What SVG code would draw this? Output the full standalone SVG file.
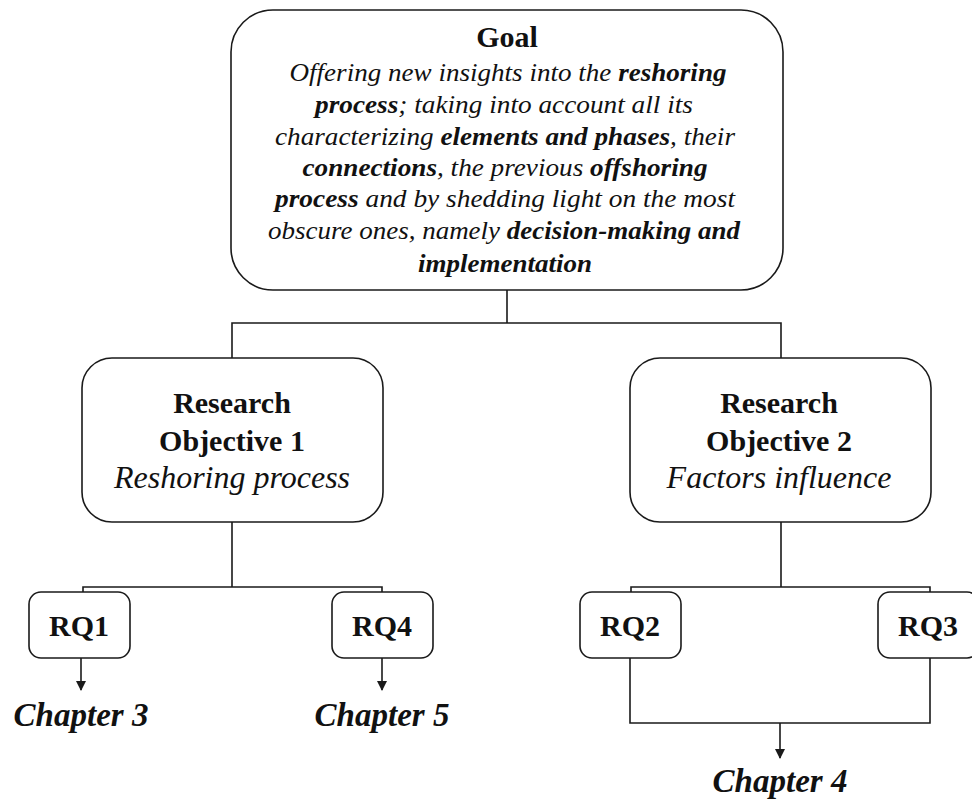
<svg xmlns="http://www.w3.org/2000/svg" width="972" height="801" viewBox="0 0 972 801">
  <style>
    .box { fill: #ffffff; stroke: #1a1a1a; stroke-width: 1.6; }
    .link { fill: none; stroke: #1a1a1a; stroke-width: 1.6; }
    .serif { font-family: 'Liberation Serif', 'DejaVu Serif', serif; fill: #111111; }
    .body { font-size: 25px; font-style: italic; text-anchor: middle; }
    .strong { font-weight: bold; }
    .head { font-size: 30px; font-weight: bold; text-anchor: middle; }
    .obj { font-size: 30px; font-weight: bold; text-anchor: middle; }
    .obj-sub { font-size: 32px; font-style: italic; text-anchor: middle; }
    .rq { font-size: 30px; font-weight: bold; text-anchor: middle; }
    .chap { font-size: 33px; font-weight: bold; font-style: italic; text-anchor: middle; }
  </style>
  <defs>
    <marker id="arrow" markerWidth="10" markerHeight="10" refX="9" refY="5" orient="auto" markerUnits="userSpaceOnUse">
      <path d="M0,0 L10,5 L0,10 Z" fill="#1a1a1a"/>
    </marker>
  </defs>
  <rect width="972" height="801" fill="#ffffff"/>

  <!-- connectors -->
  <g id="connectors">
    <path class="link" d="M507,290 V323 M232,358 V323 H781 V358"/>
    <path class="link" d="M232,522 V587 M83,592 V587 H382 V592"/>
    <path class="link" d="M781,522 V587 M631,592 V587 H930 V592"/>
    <path class="link" d="M81,658 V690" marker-end="url(#arrow)"/>
    <path class="link" d="M382,658 V690" marker-end="url(#arrow)"/>
    <path class="link" d="M630,658 V723 H930 V658"/>
    <path class="link" d="M780,723 V758" marker-end="url(#arrow)"/>
  </g>

  <!-- goal -->
  <g id="goal">
    <rect class="box" x="231" y="10" width="552" height="280" rx="42" ry="42"/>
    <text class="serif head" x="507" y="47">Goal</text>
    <text class="serif body" x="508" y="81" textLength="437" lengthAdjust="spacingAndGlyphs">Offering new insights into the <tspan class="strong">reshoring</tspan></text>
    <text class="serif body" x="504" y="113" textLength="378" lengthAdjust="spacingAndGlyphs"><tspan class="strong">process</tspan>; taking into account all its</text>
    <text class="serif body" x="505" y="145" textLength="460" lengthAdjust="spacingAndGlyphs">characterizing <tspan class="strong">elements and phases</tspan>, their</text>
    <text class="serif body" x="505" y="176" textLength="405" lengthAdjust="spacingAndGlyphs"><tspan class="strong">connections</tspan>, the previous <tspan class="strong">offshoring</tspan></text>
    <text class="serif body" x="505" y="207" textLength="460" lengthAdjust="spacingAndGlyphs"><tspan class="strong">process</tspan> and by shedding light on the most</text>
    <text class="serif body" x="504" y="239" textLength="472" lengthAdjust="spacingAndGlyphs">obscure ones, namely <tspan class="strong">decision-making and</tspan></text>
    <text class="serif body strong" x="505" y="272" textLength="174" lengthAdjust="spacingAndGlyphs">implementation</text>
  </g>

  <!-- research objective 1 -->
  <g id="objective-1">
    <rect class="box" x="82" y="358" width="301" height="164" rx="30" ry="30"/>
    <text class="serif obj" x="232" y="413">Research</text>
    <text class="serif obj" x="232" y="451">Objective 1</text>
    <text class="serif obj-sub" x="232" y="488">Reshoring process</text>
  </g>

  <!-- research objective 2 -->
  <g id="objective-2">
    <rect class="box" x="630" y="358" width="301" height="164" rx="30" ry="30"/>
    <text class="serif obj" x="779" y="413">Research</text>
    <text class="serif obj" x="779" y="451">Objective 2</text>
    <text class="serif obj-sub" x="779" y="488">Factors influence</text>
  </g>

  <!-- research questions -->
  <g id="rq1">
    <rect class="box" x="29" y="592" width="101" height="66" rx="12" ry="12"/>
    <text class="serif rq" x="79" y="636">RQ1</text>
  </g>
  <g id="rq4">
    <rect class="box" x="332" y="592" width="101" height="66" rx="12" ry="12"/>
    <text class="serif rq" x="382" y="636">RQ4</text>
  </g>
  <g id="rq2">
    <rect class="box" x="580" y="592" width="101" height="66" rx="12" ry="12"/>
    <text class="serif rq" x="630" y="636">RQ2</text>
  </g>
  <g id="rq3">
    <rect class="box" x="878" y="592" width="101" height="66" rx="12" ry="12"/>
    <text class="serif rq" x="928" y="636">RQ3</text>
  </g>

  <!-- chapters -->
  <g id="chapter-3">
    <text class="serif chap" x="81" y="726">Chapter 3</text>
  </g>
  <g id="chapter-5">
    <text class="serif chap" x="382" y="726">Chapter 5</text>
  </g>
  <g id="chapter-4">
    <text class="serif chap" x="780" y="792">Chapter 4</text>
  </g>
</svg>
